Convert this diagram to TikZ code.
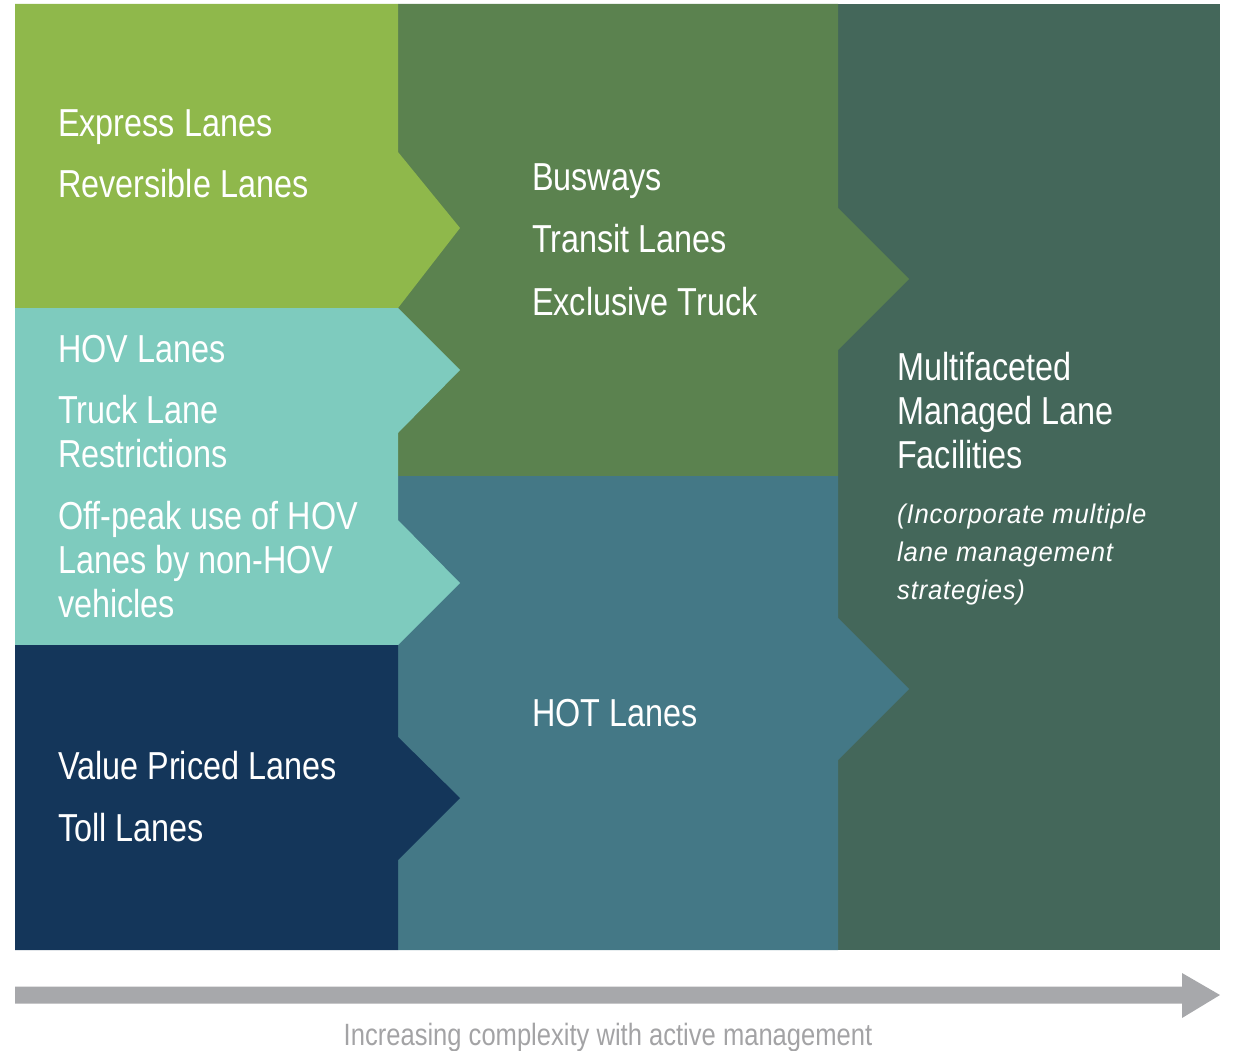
\documentclass[tikz,border=0pt]{standalone}
\usepackage{fontspec}
\setmainfont{Liberation Sans}[FakeStretch=0.83]
\newfontfamily\notefont{Liberation Sans}[FakeStretch=0.95,LetterSpace=3]

\definecolor{lightgreen}{HTML}{8FB84B}
\definecolor{seafoam}{HTML}{7ECBBE}
\definecolor{navy}{HTML}{14365A}
\definecolor{fieldgreen}{HTML}{5B824F}
\definecolor{steelteal}{HTML}{447886}
\definecolor{slate}{HTML}{44675A}
\definecolor{bargray}{HTML}{A7A8AB}
\definecolor{captiongray}{HTML}{A3A3A5}

\tikzset{
  label/.style={anchor=base west, inner sep=0pt, text=white,
    font=\fontsize{39}{44}\selectfont},
  note/.style={anchor=base west, inner sep=0pt, text=white,
    font=\notefont\itshape\fontsize{27}{38}\selectfont},
  caption/.style={anchor=base, inner sep=0pt, text=captiongray,
    font=\fontsize{30.8}{34}\selectfont},
}
% two or three lines set with a fixed baseline distance
\newcommand\twolines[2]{\vtop{\baselineskip=44pt\hbox{#1}\hbox{#2}}}
\newcommand\threelines[4]{\vtop{\baselineskip=#1\hbox{#2}\hbox{#3}\hbox{#4}}}

\begin{document}
\begin{tikzpicture}[x=1pt, y=-1pt]
  \useasboundingbox (0,0) rectangle (1233,1051);

  % right column: combined facilities
  \fill[slate] (838,4) rectangle (1220,950);

  % middle column
  \fill[fieldgreen] (398,4) -- (838,4) -- (838,208) -- (909,279) -- (838,350)
    -- (838,476) -- (398,476) -- cycle;
  \fill[steelteal] (398,476) -- (838,476) -- (838,618) -- (909,689) -- (838,760)
    -- (838,950) -- (398,950) -- cycle;

  % left column
  \fill[lightgreen] (15,4) -- (398,4) -- (398,152) -- (460,228) -- (398,308)
    -- (15,308) -- cycle;
  \fill[seafoam] (15,308) -- (398,308) -- (460,370) -- (398,433) -- (398,520)
    -- (460,583) -- (398,645) -- (15,645) -- cycle;
  \fill[navy] (15,645) -- (398,645) -- (398,737) -- (460,798) -- (398,860)
    -- (398,950) -- (15,950) -- cycle;

  % left column labels
  \node[label] (express) at (58,137) {Express Lanes};
  \node[label] (reversible) at (58,197) {Reversible Lanes};
  \node[label] (hov) at (58,362) {HOV Lanes};
  \node[label] (truckres) at (58,423) {\twolines{Truck Lane}{Restrictions}};
  \node[label] (offpeak) at (58,529)
    {\threelines{44pt}{Off-peak use of HOV}{Lanes by non-HOV}{vehicles}};
  \node[label] (value) at (58,779) {Value Priced Lanes};
  \node[label] (toll) at (58,841) {Toll Lanes};

  % middle column labels
  \node[label] (busways) at (532,190) {Busways};
  \node[label] (transit) at (532,252) {Transit Lanes};
  \node[label] (excl) at (532,315) {Exclusive Truck};
  \node[label] (hot) at (532,726) {HOT Lanes};

  % right column labels
  \node[label] (multi) at (897,380)
    {\threelines{44pt}{Multifaceted}{Managed Lane}{Facilities}};
  \node[note] (incorp) at (897,523)
    {\threelines{38pt}{(Incorporate multiple}{lane management}{strategies)}};

  % progression arrow
  \coordinate (tail) at (15,995);
  \coordinate (tip) at (1220,995);
  \fill[bargray] (tail) ++(0,-8.5) -- ++(1167,0) -- (1182,973) -- (tip)
    -- (1182,1018) -- (1182,1003.5) -- (15,1003.5) -- cycle;
  \node[caption] (cap) at (608,1045) {Increasing complexity with active management};
\end{tikzpicture}
\end{document}
